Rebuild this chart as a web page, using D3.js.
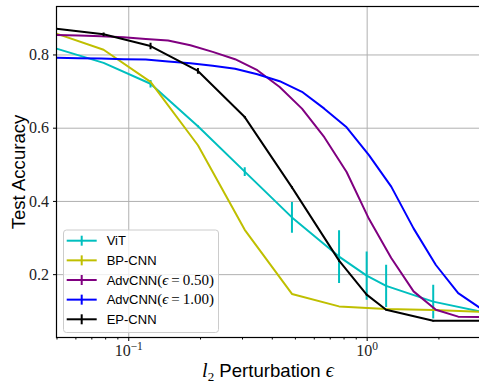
<!DOCTYPE html>
<html>
<head>
<meta charset="utf-8">
<script src="https://cdn.jsdelivr.net/npm/d3@7"></script>
<style>
  body { margin: 0; background: #fff; }
  svg { display: block; }
</style>
</head>
<body>
<div id="chart"></div>
<script>
// l2 perturbation values
const epsCoarse = [0.05, 0.0788, 0.124, 0.196, 0.308, 0.486, 0.766, 1.207, 1.902, 3.0];
const epsWithOne = [0.05, 0.0788, 0.124, 0.196, 0.308, 0.486, 0.766, 1.0, 1.207, 1.902, 3.0];
const epsFine = [0.05, 0.062, 0.0769, 0.0955, 0.1184, 0.1469, 0.1822, 0.2261, 0.2805, 0.3479,
                 0.4316, 0.5354, 0.6642, 0.824, 1.0222, 1.268, 1.573, 1.9514, 2.4207, 3.0];

// accuracies
const vitAcc = [0.816, 0.777, 0.720, 0.604, 0.480, 0.355, 0.248, 0.196, 0.168, 0.125, 0.098];
const vitErr = [0, 0, 0.010, 0.003, 0.012, 0.042, 0.072, 0.066, 0.058, 0.046, 0.03];
const bpAcc = [0.857, 0.813, 0.725, 0.552, 0.321, 0.146, 0.112, 0.105, 0.102, 0.097];
const adv050Acc = [0.853, 0.852, 0.850, 0.847, 0.842, 0.838, 0.825, 0.807, 0.787, 0.757,
                   0.711, 0.652, 0.574, 0.479, 0.351, 0.244, 0.153, 0.103, 0.084, 0.083];
const adv100Acc = [0.791, 0.790, 0.789, 0.787, 0.786, 0.781, 0.776, 0.769, 0.761, 0.746,
                   0.727, 0.698, 0.652, 0.601, 0.525, 0.439, 0.325, 0.225, 0.148, 0.107];
const epAcc = [0.870, 0.855, 0.823, 0.755, 0.629, 0.437, 0.237, 0.144, 0.103, 0.073, 0.073];
const epErr = [0, 0.005, 0.009, 0.008, 0.003, 0.003, 0.003, 0.002, 0.002, 0.002, 0.002];

const yTicks = [0.2, 0.4, 0.6, 0.8];
const xTicks = [0.1, 1];
const xTickExp = ['\u22121', '0'];

const series = [
  { name: 'ViT', math: null, color: '#00bfbf', eps: epsWithOne, acc: vitAcc, err: vitErr },
  { name: 'BP-CNN', math: null, color: '#bfbf00', eps: epsCoarse, acc: bpAcc, err: null },
  { name: 'AdvCNN', math: '0.50', color: '#800080', eps: epsFine, acc: adv050Acc, err: null },
  { name: 'AdvCNN', math: '1.00', color: '#0000ff', eps: epsFine, acc: adv100Acc, err: null },
  { name: 'EP-CNN', math: null, color: '#000000', eps: epsWithOne, acc: epAcc, err: epErr },
];

const width = 479;
const height = 385;
const area = { left: 56.5, right: 480.4, top: 6.5, bottom: 337.5 };

const serif = "'Liberation Serif', 'DejaVu Serif', serif";
const sans = "'Liberation Sans', Arial, sans-serif";

const svg = d3.select('#chart').append('svg')
  .attr('width', width)
  .attr('height', height);

const xScale = d3.scaleLog().domain([0.05, 3]).range([area.left, area.right]);
const yScale = d3.scaleLinear().domain([0.027, 0.931]).range([area.bottom, area.top]);

svg.append('clipPath').attr('id', 'plot-clip')
  .append('rect')
  .attr('x', area.left).attr('y', area.top)
  .attr('width', area.right - area.left).attr('height', area.bottom - area.top);

// gridlines
const grid = svg.append('g').attr('class', 'grid');
grid.append('g')
  .attr('transform', `translate(${area.left},0)`)
  .call(d3.axisLeft(yScale).tickValues(yTicks).tickFormat('').tickSize(-(area.right - area.left)));
grid.append('g')
  .attr('transform', `translate(0,${area.bottom})`)
  .call(d3.axisBottom(xScale).tickValues(xTicks).tickFormat('').tickSize(-(area.bottom - area.top)));
grid.selectAll('.domain').remove();
grid.selectAll('line').attr('stroke', '#b0b0b0').attr('stroke-width', 1);

// lines + error bars
const line = d3.line().x(d => xScale(d[0])).y(d => yScale(d[1]));
const plot = svg.append('g').attr('clip-path', 'url(#plot-clip)');

series.forEach(s => {
  const pts = s.eps.map((e, i) => [e, s.acc[i]]);
  const g = plot.append('g');
  if (s.err) {
    g.selectAll('line')
      .data(pts.map((p, i) => [p[0], p[1], s.err[i]]).filter(d => d[2] > 0))
      .join('line')
      .attr('x1', d => xScale(d[0])).attr('x2', d => xScale(d[0]))
      .attr('y1', d => yScale(d[1] - d[2])).attr('y2', d => yScale(d[1] + d[2]))
      .attr('stroke', s.color).attr('stroke-width', 2);
  }
  g.append('path')
    .datum(pts)
    .attr('d', line)
    .attr('fill', 'none')
    .attr('stroke', s.color)
    .attr('stroke-width', 2)
    .attr('stroke-linejoin', 'round');
});

// axes
const axes = svg.append('g').attr('class', 'axes');
const yAxis = axes.append('g')
  .attr('transform', `translate(${area.left},0)`)
  .call(d3.axisLeft(yScale).tickValues(yTicks).tickSize(3.5).tickPadding(4).tickFormat(d3.format('.1f')));
yAxis.select('.domain').remove();
yAxis.selectAll('text').attr('font-family', serif).attr('font-size', 16).attr('fill', '#222');

const minor = xScale.ticks().filter(d => !xTicks.some(t => Math.abs(t - d) < 1e-9));
axes.append('g')
  .attr('transform', `translate(0,${area.bottom})`)
  .call(d3.axisBottom(xScale).tickValues(minor).tickSize(2).tickFormat(''))
  .select('.domain').remove();

const xAxis = axes.append('g')
  .attr('transform', `translate(0,${area.bottom})`)
  .call(d3.axisBottom(xScale).tickValues(xTicks).tickSize(3.5).tickFormat(''));
xAxis.select('.domain').remove();
xAxis.selectAll('.tick').each(function (d, i) {
  const t = d3.select(this).append('text')
    .attr('y', 18.5)
    .attr('text-anchor', 'middle')
    .attr('font-family', serif)
    .attr('fill', '#222');
  t.append('tspan').attr('font-size', 16).text('10');
  t.append('tspan').attr('font-size', 11.5).attr('dy', -6).text(xTickExp[i]);
});
axes.selectAll('.tick line').attr('stroke', '#000').attr('stroke-width', 1);

// frame
svg.append('rect')
  .attr('x', area.left).attr('y', area.top)
  .attr('width', area.right - area.left).attr('height', area.bottom - area.top)
  .attr('fill', 'none').attr('stroke', '#000').attr('stroke-width', 1.2);

// axis labels
const xl = svg.append('text')
  .attr('x', 268).attr('y', 377)
  .attr('text-anchor', 'middle')
  .attr('fill', '#000');
xl.append('tspan').attr('font-family', serif).attr('font-style', 'italic').attr('font-size', 20).text('l');
xl.append('tspan').attr('font-family', serif).attr('font-size', 13).attr('dy', 4).text('2');
xl.append('tspan').attr('font-family', sans).attr('font-size', 18.6).attr('dy', -4).text(' Perturbation ');
xl.append('tspan').attr('font-family', serif).attr('font-style', 'italic').attr('font-size', 20).text('\u03f5');

svg.append('text')
  .attr('transform', 'translate(24.5,172) rotate(-90)')
  .attr('text-anchor', 'middle')
  .attr('font-family', sans)
  .attr('font-size', 18.6)
  .attr('fill', '#000')
  .text('Test Accuracy');

// legend
const legend = svg.append('g');
legend.append('rect')
  .attr('x', 63.5).attr('y', 230)
  .attr('width', 155).attr('height', 102.5)
  .attr('rx', 3)
  .attr('fill', '#fff').attr('fill-opacity', 0.8)
  .attr('stroke', '#cccccc').attr('stroke-width', 1);

series.forEach((s, i) => {
  const cy = 240.7 + i * 19.65;
  const item = legend.append('g');
  item.append('line')
    .attr('x1', 66.7).attr('x2', 96.7).attr('y1', cy).attr('y2', cy)
    .attr('stroke', s.color).attr('stroke-width', 2);
  item.append('line')
    .attr('x1', 81.7).attr('x2', 81.7).attr('y1', cy - 5).attr('y2', cy + 5)
    .attr('stroke', s.color).attr('stroke-width', 2);
  const t = item.append('text')
    .attr('x', 106.7).attr('y', cy + 4.7)
    .attr('fill', '#000');
  t.append('tspan').attr('font-family', sans).attr('font-size', 13).text(s.name);
  if (s.math) {
    t.append('tspan').attr('font-family', serif).attr('font-size', 15).text('(');
    t.append('tspan').attr('font-family', serif).attr('font-style', 'italic').attr('font-size', 15).text('\u03f5');
    t.append('tspan').attr('font-family', serif).attr('font-size', 15).text('\u2009=\u20090.50)'.replace('0.50', s.math));
  }
});
</script>
</body>
</html>
